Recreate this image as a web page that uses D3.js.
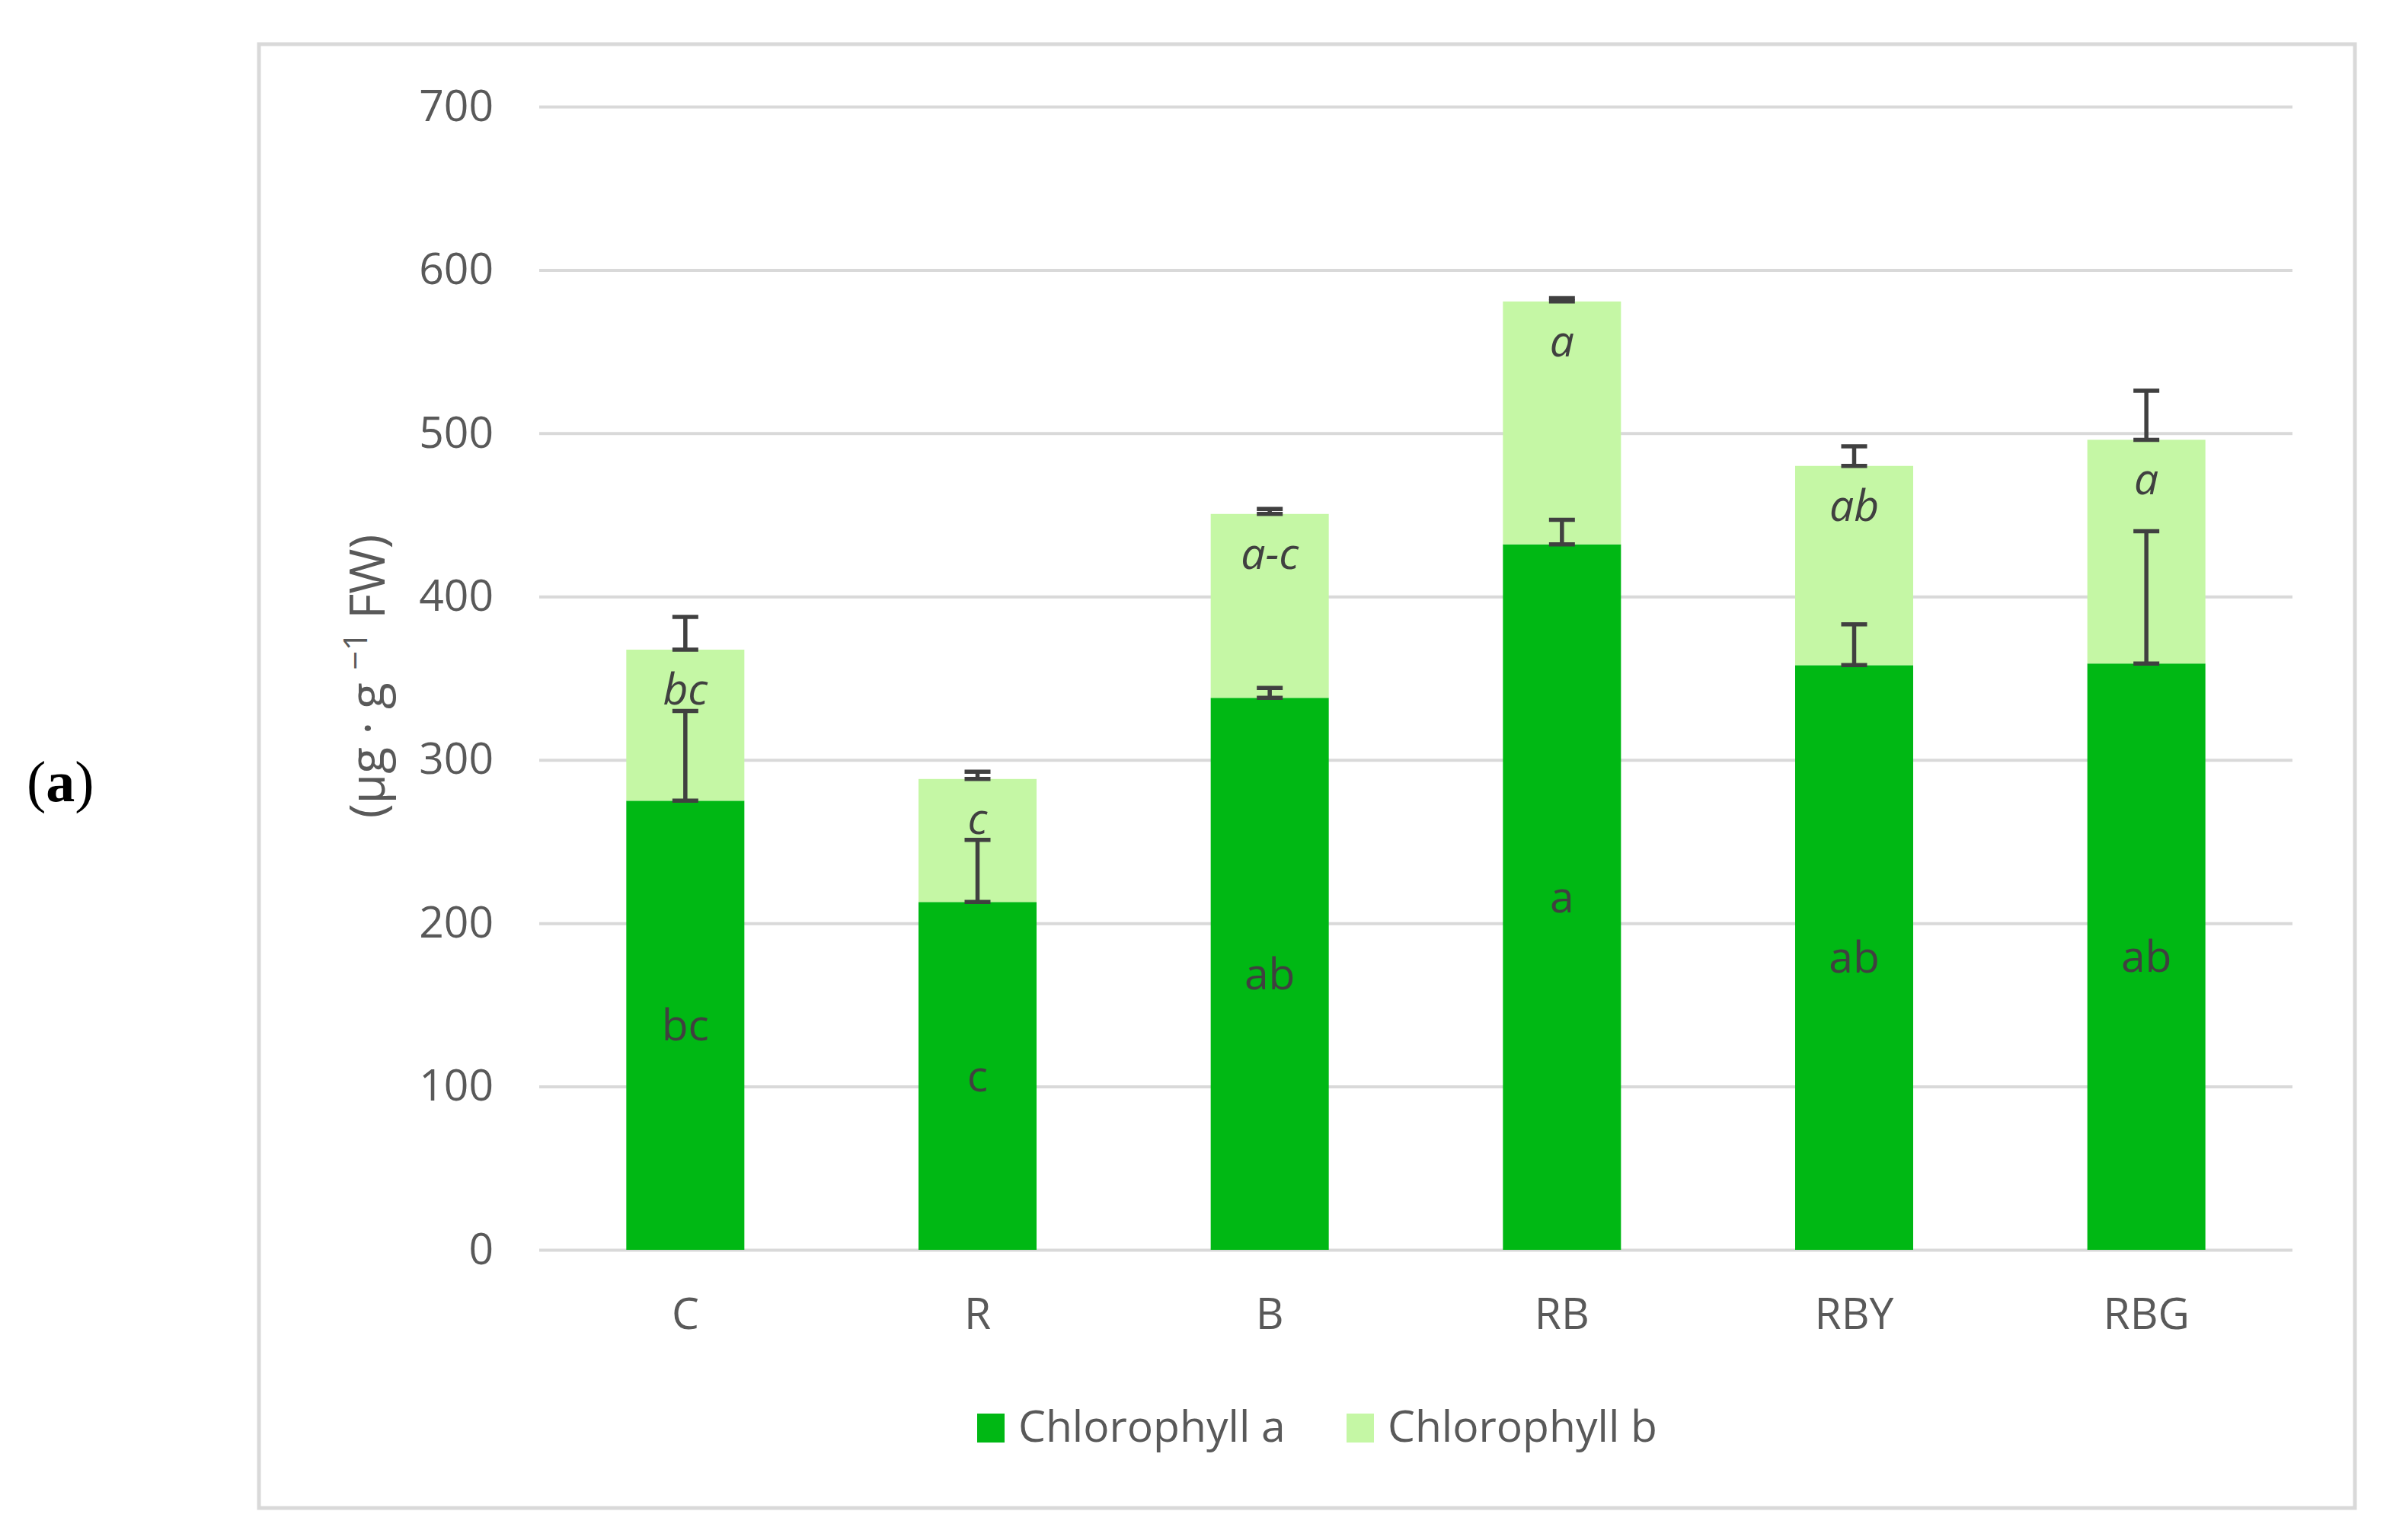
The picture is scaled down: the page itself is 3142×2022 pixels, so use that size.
<!DOCTYPE html>
<html>
<head>
<meta charset="utf-8">
<script src="https://cdn.jsdelivr.net/npm/d3@7"></script>
<style>
  html, body { margin: 0; padding: 0; background: #fff; }
  svg { display: block; font-family: "Open Sans", sans-serif; }
</style>
</head>
<body>
<div id="chart"></div>
<script>
// Werte
const treatments = ["C", "R", "B", "RB", "RBY", "RBG"];
const chlA = [275, 213, 338, 432, 358, 359];
const chlB = [92.5, 75.3, 112.6, 148.7, 122, 137];
const errA = [55, 38, 6, 15, 25, 81];
const errB = [20, 4.5, 3, 2, 12, 30];
const lettersA = ["bc", "c", "ab", "a", "ab", "ab"];
const lettersB = ["bc", "c", "a-c", "a", "ab", "a"];
const yTicks = [0, 100, 200, 300, 400, 500, 600, 700];
const seriesNames = ["Chlorophyll a", "Chlorophyll b"];
const seriesColors = ["#00b814", "#c5f7a5"];

const width = 3142, height = 2022;
const margin = { top: 140, right: 132, bottom: 381, left: 708 };
const textColor = "#595959";
const labelColor = "#404040";
const gridColor = "#d9d9d9";
const fontSize = 57;

const svg = d3.select("#chart")
    .append("svg")
    .attr("width", width)
    .attr("height", height);

// Rahmen um das Diagramm
svg.append("rect")
    .attr("x", 340).attr("y", 58)
    .attr("width", 2752).attr("height", 1922)
    .attr("fill", "none")
    .attr("stroke", gridColor)
    .attr("stroke-width", 5);

const x = d3.scaleBand()
    .domain(treatments)
    .range([margin.left, width - margin.right])
    .paddingInner(0.596)
    .paddingOuter(0.298);

const y = d3.scaleLinear()
    .domain([0, 700])
    .range([height - margin.bottom, margin.top]);

// Gitterlinien + y-Achse
const yAxis = g => g
    .attr("transform", `translate(${margin.left},0)`)
    .call(d3.axisLeft(y).tickValues(yTicks).tickSize(-(width - margin.right - margin.left)).tickPadding(60))
    .call(g => g.select(".domain").remove())
    .call(g => g.selectAll(".tick line").attr("stroke", gridColor).attr("stroke-width", 4))
    .call(g => g.selectAll(".tick text")
        .attr("fill", textColor)
        .style("font-size", fontSize + "px")
        .style("font-family", "Open Sans"));

svg.append("g").call(yAxis);

const xAxis = g => g
    .attr("transform", `translate(0,${height - margin.bottom})`)
    .call(d3.axisBottom(x).tickSize(0).tickPadding(64))
    .call(g => g.select(".domain").remove())
    .call(g => g.selectAll(".tick text")
        .attr("fill", textColor)
        .style("font-size", fontSize + "px")
        .style("font-family", "Open Sans"));

svg.append("g").call(xAxis);

// gestapelte Balken
const rows = treatments.map((t, i) => ({ t, a: chlA[i], b: chlB[i], ea: errA[i], eb: errB[i], la: lettersA[i], lb: lettersB[i] }));
const stacked = d3.stack().keys(["a", "b"])(rows);

svg.append("g")
    .selectAll("g")
    .data(stacked)
    .join("g")
    .attr("fill", (d, i) => seriesColors[i])
    .selectAll("rect")
    .data(d => d)
    .join("rect")
    .attr("x", d => x(d.data.t))
    .attr("y", d => y(d[1]))
    .attr("width", x.bandwidth())
    .attr("height", d => y(d[0]) - y(d[1]));

// Fehlerbalken (nur nach oben)
const capHalf = 17;
const errBars = [];
rows.forEach(d => {
    errBars.push({ t: d.t, v: d.a, e: d.ea });
    errBars.push({ t: d.t, v: d.a + d.b, e: d.eb });
});

const eg = svg.append("g")
    .attr("stroke", "#404040")
    .attr("stroke-width", 5.5);

eg.selectAll("g")
    .data(errBars)
    .join("g")
    .each(function(d) {
        const g = d3.select(this);
        const cx = x(d.t) + x.bandwidth() / 2;
        g.append("line").attr("x1", cx).attr("x2", cx).attr("y1", y(d.v)).attr("y2", y(d.v + d.e));
        g.append("line").attr("x1", cx - capHalf).attr("x2", cx + capHalf).attr("y1", y(d.v)).attr("y2", y(d.v));
        g.append("line").attr("x1", cx - capHalf).attr("x2", cx + capHalf).attr("y1", y(d.v + d.e)).attr("y2", y(d.v + d.e));
    });

// Buchstaben der Signifikanzgruppen
svg.append("g")
    .selectAll("text")
    .data(rows)
    .join("text")
    .attr("x", d => x(d.t) + x.bandwidth() / 2)
    .attr("y", d => y(d.a / 2))
    .attr("dy", "0.35em")
    .attr("text-anchor", "middle")
    .attr("fill", labelColor)
    .style("font-size", fontSize + "px")
    .text(d => d.la);

svg.append("g")
    .selectAll("text")
    .data(rows)
    .join("text")
    .attr("x", d => x(d.t) + x.bandwidth() / 2)
    .attr("y", d => y(d.a + d.b) + 72)
    .attr("text-anchor", "middle")
    .attr("fill", labelColor)
    .style("font-size", fontSize + "px")
    .style("font-style", "italic")
    .text(d => d.lb);

// y-Achsentitel
const title = svg.append("text")
    .attr("transform", "translate(505,888) rotate(-90)")
    .attr("text-anchor", "middle")
    .attr("fill", textColor)
    .style("font-size", "64px");
title.append("tspan").text("(µg · g ");
title.append("tspan").attr("dy", -23).style("font-size", "44px").text("−1");
title.append("tspan").attr("dy", 23).text(" FW)");

// Legende
const legendX = [1283, 1768];
const legend = svg.append("g")
    .selectAll("g")
    .data(seriesNames)
    .join("g")
    .attr("transform", (d, i) => `translate(${legendX[i]},1856)`);

legend.append("rect")
    .attr("width", 36).attr("height", 38)
    .attr("fill", (d, i) => seriesColors[i]);

legend.append("text")
    .attr("x", 54)
    .attr("y", 37)
    .attr("fill", textColor)
    .style("font-size", fontSize + "px")
    .text(d => d);

// Teilbild-Kennung
const tag = svg.append("text")
    .attr("x", 35).attr("y", 1052)
    .attr("fill", "#000")
    .style("font-family", "Liberation Serif, Times New Roman, serif")
    .style("font-size", "76px");
tag.append("tspan").text("(");
tag.append("tspan").style("font-weight", "bold").text("a");
tag.append("tspan").text(")");
</script>
</body>
</html>
